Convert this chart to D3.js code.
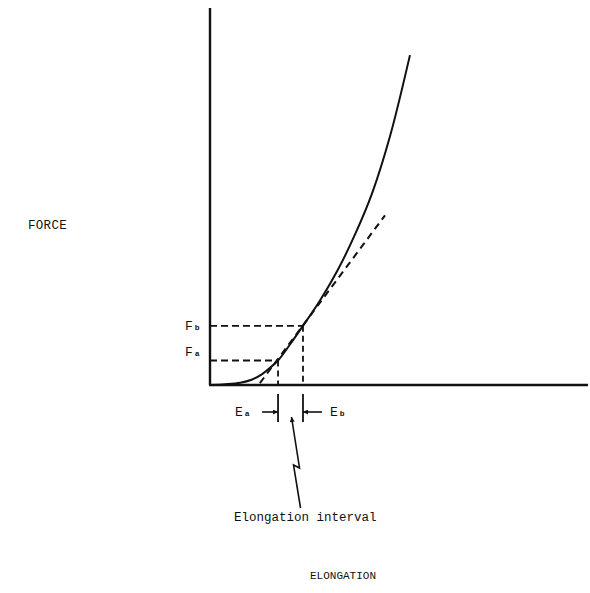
<!DOCTYPE html>
<html>
<head>
<meta charset="utf-8">
<script src="https://cdn.jsdelivr.net/npm/d3@7"></script>
<style>
  html, body { margin: 0; padding: 0; background: #fff; }
  svg { display: block; }
  text { font-family: "Liberation Mono", "DejaVu Sans Mono", monospace; fill: #111; }
</style>
</head>
<body>
<svg id="chart" width="590" height="593"></svg>
<script>
// ---- data (arbitrary units) ----
const elongation = [0, 4, 8, 11, 13.8, 15.9, 18, 21.2, 24.6, 29.1, 33.9, 38.4, 42.9, 47.6, 52.9];
const force      = [0, 0.2, 0.6, 1.4, 2.9, 4.6, 6.5, 10.8, 15.7, 22.4, 30.7, 40, 50.9, 65.9, 87.5];
const secantElong = [13.2, 46.3];
const secantForce = [0.5, 45];
const pointA = { e: 18, f: 6.5, fLabel: "a", eLabel: "a" };
const pointB = { e: 24.6, f: 15.7, fLabel: "b", eLabel: "b" };
const axisTitles = { x: "ELONGATION", y: "FORCE" };
const intervalLabel = "Elongation interval";

const svg = d3.select("#chart");
const x = d3.scaleLinear().domain([0, 100]).range([210, 588]);
const y = d3.scaleLinear().domain([0, 100]).range([385, 8]);

const ink = "#111";

// arrow markers
const defs = svg.append("defs");
defs.append("marker").attr("id", "arrowR")
  .attr("viewBox", "0 0 10 10").attr("refX", 10).attr("refY", 5)
  .attr("markerWidth", 7).attr("markerHeight", 5).attr("markerUnits", "userSpaceOnUse")
  .attr("orient", "auto")
  .append("path").attr("d", "M0,0 L10,5 L0,10 Z").attr("fill", ink);

// axes (plain lines, no ticks)
svg.append("line").attr("x1", x(0)).attr("y1", y(0)).attr("x2", x(0)).attr("y2", y(100))
  .attr("stroke", ink).attr("stroke-width", 2.4);
svg.append("line").attr("x1", x(0) - 1).attr("y1", y(0)).attr("x2", x(100)).attr("y2", y(0))
  .attr("stroke", ink).attr("stroke-width", 2.4);

// curve
const pts = elongation.map((e, i) => [e, force[i]]);
const line = d3.line().x(d => x(d[0])).y(d => y(d[1])).curve(d3.curveCatmullRom.alpha(0.5));
svg.append("path").attr("d", line(pts)).attr("fill", "none")
  .attr("stroke", ink).attr("stroke-width", 2);

// dashed secant
svg.append("line")
  .attr("x1", x(secantElong[0])).attr("y1", y(secantForce[0]))
  .attr("x2", x(secantElong[1])).attr("y2", y(secantForce[1]))
  .attr("stroke", ink).attr("stroke-width", 2).attr("stroke-dasharray", "7,5");

// dashed guides
[pointA, pointB].forEach(p => {
  svg.append("line").attr("x1", x(0)).attr("y1", y(p.f)).attr("x2", x(p.e)).attr("y2", y(p.f))
    .attr("stroke", ink).attr("stroke-width", 1.8).attr("stroke-dasharray", "7,4");
  svg.append("line").attr("x1", x(p.e)).attr("y1", y(p.f)).attr("x2", x(p.e)).attr("y2", y(0))
    .attr("stroke", ink).attr("stroke-width", 1.8).attr("stroke-dasharray", "6,4");
  // tick below axis
  svg.append("line").attr("x1", x(p.e)).attr("y1", y(0) + 9).attr("x2", x(p.e)).attr("y2", y(0) + 37)
    .attr("stroke", ink).attr("stroke-width", 1.8);
  // F label
  const t = svg.append("text").attr("x", x(0) - 25).attr("y", y(p.f) + (p === pointA ? -4 : 4))
    .attr("font-size", 13);
  t.append("tspan").text("F");
  t.append("tspan").attr("font-size", 8).attr("dx", 2).attr("font-weight", "bold").text(p.fLabel);
});

// E arrows
const arrowY = y(0) + 27;
svg.append("line").attr("x1", x(pointA.e) - 16).attr("y1", arrowY).attr("x2", x(pointA.e)).attr("y2", arrowY)
  .attr("stroke", ink).attr("stroke-width", 1.6).attr("marker-end", "url(#arrowR)");
svg.append("line").attr("x1", x(pointB.e) + 19).attr("y1", arrowY).attr("x2", x(pointB.e)).attr("y2", arrowY)
  .attr("stroke", ink).attr("stroke-width", 1.6).attr("marker-end", "url(#arrowR)");

const ea = svg.append("text").attr("x", x(pointA.e) - 43).attr("y", arrowY + 4).attr("font-size", 13);
ea.append("tspan").text("E");
ea.append("tspan").attr("font-size", 8).attr("dx", 2).attr("font-weight", "bold").text(pointA.eLabel);
const eb = svg.append("text").attr("x", x(pointB.e) + 27).attr("y", arrowY + 4).attr("font-size", 13);
eb.append("tspan").text("E");
eb.append("tspan").attr("font-size", 8).attr("dx", 2).attr("font-weight", "bold").text(pointB.eLabel);

// lightning arrow pointing at the interval
const mid = (x(pointA.e) + x(pointB.e)) / 2;
const base = y(0);
const bolt = [[mid + 10, base + 123], [mid + 3, base + 80], [mid + 9, base + 83], [mid + 1, base + 32]];
svg.append("path").attr("d", d3.line()(bolt)).attr("fill", "none")
  .attr("stroke", ink).attr("stroke-width", 1.6).attr("marker-end", "url(#arrowR)");

// texts
svg.append("text").attr("x", 234).attr("y", 521).attr("font-size", 12.5)
  .text(intervalLabel);
svg.append("text").attr("x", 28).attr("y", 229).attr("font-size", 12.5).attr("letter-spacing", 0.3)
  .text(axisTitles.y);
svg.append("text").attr("x", 310).attr("y", 579).attr("font-size", 11)
  .text(axisTitles.x);
</script>
</body>
</html>
